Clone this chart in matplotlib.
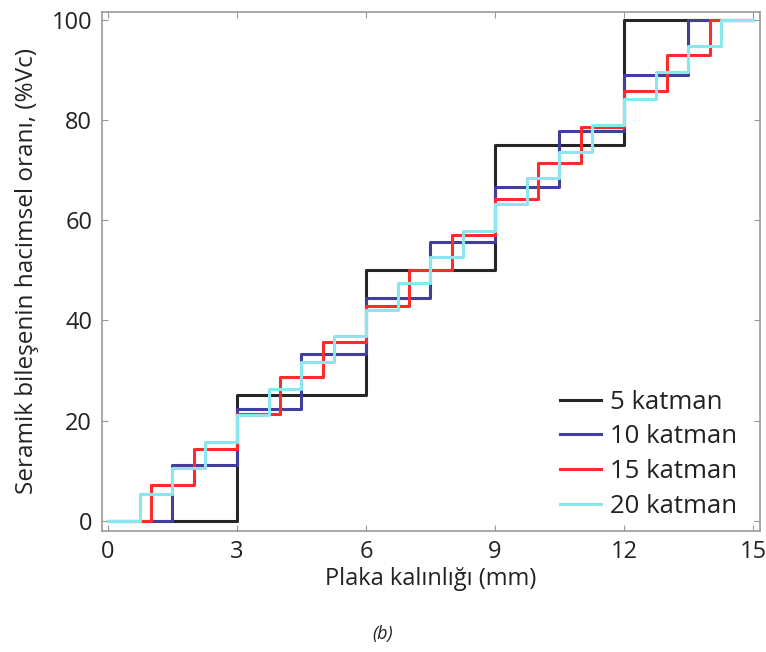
import matplotlib.pyplot as plt

# Katman sınırları (mm) ve seramik hacim oranları (%Vc)
x5 = [0, 3, 6, 9, 12, 15]
v5 = [0, 25, 50, 75, 100]

x10 = [0, 1.5, 3, 4.5, 6, 7.5, 9, 10.5, 12, 13.5, 15]
v10 = [0, 11.1, 22.2, 33.3, 44.4, 55.6, 66.7, 77.8, 88.9, 100]

x15 = [0, 1, 2, 3, 4, 5, 6, 7, 8, 9, 10, 11, 12, 13, 14, 15]
v15 = [0, 7.1, 14.3, 21.4, 28.6, 35.7, 42.9, 50, 57.1, 64.3, 71.4, 78.6, 85.7, 92.9, 100]

x20 = [0, 0.75, 1.5, 2.25, 3, 3.75, 4.5, 5.25, 6, 6.75, 7.5, 8.25, 9, 9.75,
       10.5, 11.25, 12, 12.75, 13.5, 14.25, 15]
v20 = [0, 5.3, 10.5, 15.8, 21.1, 26.3, 31.6, 36.8, 42.1, 47.4, 52.6, 57.9,
       63.2, 68.4, 73.7, 78.9, 84.2, 89.5, 94.7, 100]

etiketler = ['5 katman', '10 katman', '15 katman', '20 katman']
renkler = ['#262626', '#40409c', '#ff2a2a', '#8ce6ee']

plt.rcParams['font.family'] = ['Open Sans', 'DejaVu Sans']

fig = plt.figure(figsize=(7.66, 6.52), dpi=100)
ax = fig.add_axes([0.133, 0.186, 0.859, 0.796])

for xs, vs, lab, c in zip([x5, x10, x15, x20], [v5, v10, v15, v20], etiketler, renkler):
    ax.step(xs, vs + vs[-1:], where='post', color=c, lw=2.2, label=lab)

ax.set_xlim(-0.14, 15.16)
ax.set_ylim(-2, 101.6)
ax.set_xticks([0, 3, 6, 9, 12, 15])
ax.set_yticks([0, 20, 40, 60, 80, 100])
ax.tick_params(direction='in', length=4, width=0.8, color='#999999',
               labelsize=17, top=True, right=True, pad=7, labelcolor='#222222')
for s in ax.spines.values():
    s.set_color('#999999')
    s.set_linewidth(1.2)

ax.set_xlabel('Plaka kalınlığı (mm)', fontsize=17, color='#222222', labelpad=2)
ax.set_ylabel('Seramik bileşenin hacimsel oranı, (%Vc)', fontsize=17.5,
              color='#222222', labelpad=9)

ax.legend(loc='lower right', bbox_to_anchor=(1.0, -0.022), frameon=False,
          fontsize=18.5, handlelength=1.6, handletextpad=0.35, labelspacing=0.38,
          labelcolor='#222222')

fig.text(0.5, 0.02, '(b)', ha='center', fontsize=13, style='italic', color='#222222')

plt.savefig('out.png', dpi=100)
